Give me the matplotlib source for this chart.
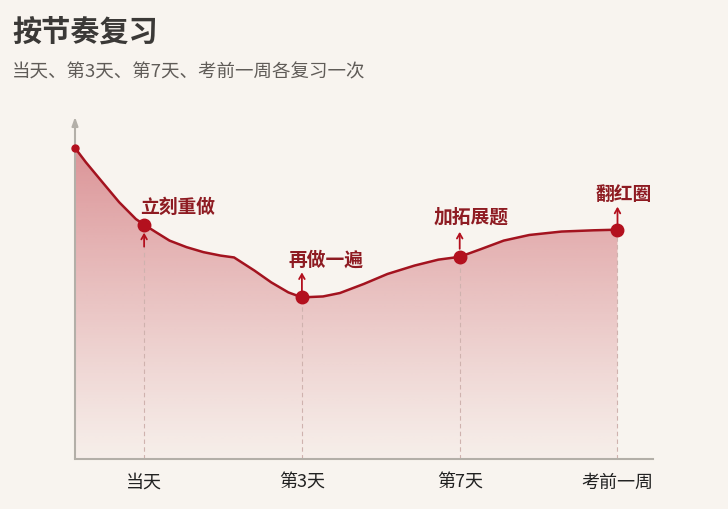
import numpy as np
import matplotlib
matplotlib.use('Agg')
import matplotlib.pyplot as plt
import matplotlib.transforms as mtrans
from matplotlib.path import Path
from matplotlib.patches import PathPatch

plt.rcParams['font.family'] = ['Noto Sans CJK SC', 'DejaVu Sans']

# ---------------- data ----------------
title = '按节奏复习'
subtitle = '当天、第3天、第7天、考前一周各复习一次'
categories = ['当天', '第3天', '第7天', '考前一周']
cat_pos = [1, 2, 3, 4]
marker_values = [75.1, 51.8, 64.8, 73.5]
point_labels = ['立刻重做', '再做一遍', '加拓展题', '翻红圈']

curve_x = [0.562, 0.631, 0.736, 0.842, 0.948, 1.0,
           1.075, 1.161, 1.269, 1.376, 1.484, 1.570, 1.699, 1.806, 1.914, 2.0,
           2.134, 2.241, 2.392, 2.542, 2.714, 2.865, 3.0,
           3.136, 3.279, 3.441, 3.645, 3.848, 4.0]
curve_y = [99.7, 95.1, 88.7, 82.3, 76.9, 75.1,
           72.7, 70.0, 67.9, 66.3, 65.2, 64.6, 60.4, 56.6, 53.4, 51.8,
           52.1, 53.2, 56.1, 59.3, 62.0, 63.9, 64.8,
           67.3, 70.0, 71.8, 72.9, 73.3, 73.5]

# ---------------- style ----------------
BG = '#f8f4ef'
LINE = '#a3131f'
DOT = '#b3101e'
LABEL = '#8e1b22'
AXIS = '#b3afa8'

W, H = 728, 510
fig = plt.figure(figsize=(W / 100, H / 100), dpi=100, facecolor=BG)

ax_l, ax_r, ax_b, ax_t = 75, 653, 460, 118
ax = fig.add_axes([ax_l / W, 1 - ax_b / H, (ax_r - ax_l) / W, (ax_b - ax_t) / H])
ax.set_facecolor(BG)
ax.set_xlim(0.562, 4.225)
ax.set_ylim(0, (460 - 118) / 3.12)

for s in ['top', 'right', 'left']:
    ax.spines[s].set_visible(False)
ax.spines['bottom'].set_color(AXIS)
ax.spines['bottom'].set_linewidth(1.5)
ax.set_yticks([])
ax.set_xticks(cat_pos)
ax.set_xticklabels(categories, fontsize=13, color='#222222', fontweight='medium')
ax.tick_params(axis='x', length=0, pad=10)

# y axis with arrow
ax.annotate('', xy=(0, 1.0), xycoords='axes fraction', xytext=(0, 0),
            textcoords='axes fraction',
            arrowprops=dict(arrowstyle='-|>,head_length=0.5,head_width=0.18',
                            color=AXIS, lw=1.5, shrinkA=0, shrinkB=0))

# gradient fill under curve
ymax = ax.get_ylim()[1]
n = 300
top_y = 100.0
alpha = np.clip(0.03 + 0.46 * (np.linspace(0, ymax, n) / top_y) ** 1.1, 0, 0.6)[:, None]
rgba = np.zeros((n, 1, 4))
rgba[..., 0] = 190 / 255
rgba[..., 1] = 48 / 255
rgba[..., 2] = 60 / 255
rgba[..., 3] = alpha
img = ax.imshow(rgba, extent=[ax.get_xlim()[0], ax.get_xlim()[1], 0, ymax],
                origin='lower', aspect='auto', zorder=1, interpolation='bilinear')
verts = [(curve_x[0], 0)] + list(zip(curve_x, curve_y)) + [(curve_x[-1], 0), (curve_x[0], 0)]
clip = PathPatch(Path(verts), transform=ax.transData, facecolor='none', edgecolor='none')
ax.add_patch(clip)
img.set_clip_path(clip)

# dashed drop lines
for x, y in zip(cat_pos, marker_values):
    ax.plot([x, x], [0, y], color='#cfb2ae', lw=0.8, ls=(0, (4, 3)), zorder=2)

# curve
ax.plot(curve_x, curve_y, color=LINE, lw=1.8, zorder=3, solid_joinstyle='round')
ax.plot(curve_x[0], curve_y[0], 'o', color=DOT, ms=5, zorder=4, clip_on=False)
ax.plot(cat_pos, marker_values, 'o', color=DOT, ms=9, zorder=5)

# arrows and labels
arrow_px = [(-22, -8), (6, 25), (8, 25), (6, 23)]
label_off = [(34, 18), (24, 38), (11, 41), (6, 36)]
for x, y, lab, (a0, a1), (lx, ly) in zip(cat_pos, marker_values, point_labels, arrow_px, label_off):
    t0 = mtrans.offset_copy(ax.transData, fig=fig, x=0, y=a0, units='dots')
    t1 = mtrans.offset_copy(ax.transData, fig=fig, x=0, y=a1, units='dots')
    ax.annotate('', xy=(x, y), xycoords=t1, xytext=(x, y), textcoords=t0,
                arrowprops=dict(arrowstyle='->,head_length=0.35,head_width=0.2',
                                color=DOT, lw=1.3, shrinkA=0, shrinkB=0), zorder=6)
    ax.annotate(lab, xy=(x, y), xytext=(lx, ly), textcoords='offset pixels',
                ha='center', va='center', fontsize=13.5, fontweight='bold',
                color=LABEL, zorder=7)

# titles
fig.text(12 / W, 1 - 32 / H, title, fontsize=21, fontweight='bold', color='#3b3937',
         ha='left', va='center')
fig.text(12 / W, 1 - 72 / H, subtitle, fontsize=13.3, color='#605c58',
         ha='left', va='center')

fig.savefig('out.png', dpi=100, facecolor=BG)
